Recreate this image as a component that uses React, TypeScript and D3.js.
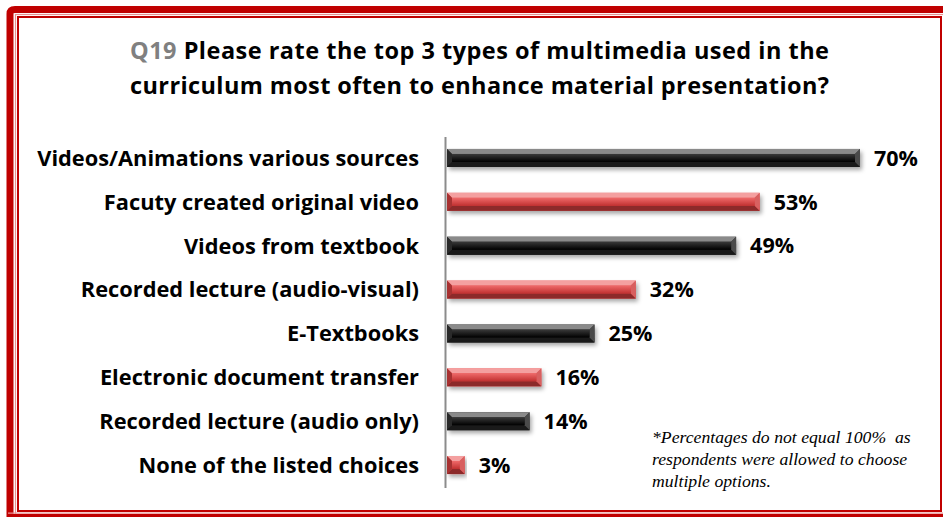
import React from "react";
import * as d3 from "d3";

const categories = [
  "Videos/Animations various sources",
  "Facuty created original video",
  "Videos from textbook",
  "Recorded lecture (audio-visual)",
  "E-Textbooks",
  "Electronic document transfer",
  "Recorded lecture (audio only)",
  "None of the listed choices",
];
const values = [70, 53, 49, 32, 25, 16, 14, 3];
const titleLines = [
  "Please rate the top 3 types of multimedia used in the",
  "curriculum most often to enhance material presentation?",
];
const titlePrefix = "Q19";
const footnote = [
  "*Percentages do not equal 100%  as",
  "respondents were allowed to choose",
  "multiple options.",
];

const W = 943;
const H = 517;

const palettes = {
  black: { top: "#8a8a8a", face0: "#3a3a3a", face1: "#000000", bottom: "#1a1a1a", left: "#2a2a2a", right: "#4a4a4a" },
  red: { top: "#f4a0a0", face0: "#ef6a6a", face1: "#c03030", bottom: "#8c2a2a", left: "#a83232", right: "#d86060" },
};

export default function App() {
  const x = d3.scaleLinear().domain([0, 70]).range([447, 860]);
  const y = d3.scaleBand<string>().domain(categories).range([136, 487]).padding(0);
  const barH = 18;
  const b = 5;
  const font = "'Open Sans', sans-serif";

  return (
    <svg width={W} height={H} style={{ position: "absolute", left: 0, top: 0, background: "#fff" }}>
      <defs>
        <filter id="shadow" x="-10%" y="-50%" width="120%" height="220%">
          <feDropShadow dx="2" dy="3" stdDeviation="2" floodColor="#000" floodOpacity="0.35" />
        </filter>
        {Object.entries(palettes).map(([k, p]) => (
          <linearGradient key={k} id={`face-${k}`} x1="0" y1="0" x2="0" y2="1">
            <stop offset="0" stopColor={p.face0} />
            <stop offset="1" stopColor={p.face1} />
          </linearGradient>
        ))}
      </defs>
      {/* frame */}
      <path d={`M10,${H + 20} L10,14 Q10,9.5 15,9.5 L${W + 20},9.5`} fill="none" stroke="#c00000" strokeWidth={7} />
      <rect x={15.5} y={14.5} width={W + 40} height={H - 15 + 40} fill="none" stroke="#e89090" strokeWidth={1.2} />
      <rect x={18} y={17} width={W - 2 - 18} height={511 - 17} fill="none" stroke="#c00000" strokeWidth={2} />
      <path d={`M10,${H - 1.5} L${W},${H - 1.5}`} stroke="#c00000" strokeWidth={3} />
      <path d={`M8,${H - 3.8} L${W},${H - 3.8}`} stroke="#e89090" strokeWidth={1.2} />

      {/* title */}
      <text x={130} y={59} fontFamily={font} fontWeight={700} fontSize={23.5} fill="#000" textLength={699} lengthAdjust="spacing">
        <tspan fill="#808080">{titlePrefix}</tspan> {titleLines[0]}
      </text>
      <text x={130} y={94} fontFamily={font} fontWeight={700} fontSize={23.5} fill="#000" textLength={699} lengthAdjust="spacing">
        {titleLines[1]}
      </text>

      {/* axis */}
      <line x1={445.5} x2={445.5} y1={137} y2={488} stroke="#8c8c8c" strokeWidth={2} />

      {categories.map((c, i) => {
        const cy = (y(c) as number) + y.bandwidth() / 2;
        const x0 = x(0);
        const x1 = x(values[i]);
        const y0 = cy - barH / 2;
        const y1 = cy + barH / 2;
        const p = i % 2 === 0 ? palettes.black : palettes.red;
        const k = i % 2 === 0 ? "black" : "red";
        const bb = Math.min(b, (x1 - x0) / 2);
        return (
          <g key={c}>
            <text x={419} y={cy} dy="0.36em" textAnchor="end" fontFamily={font} fontWeight={700} fontSize={21.8} fill="#000">
              {c}
            </text>
            <g filter="url(#shadow)">
              <rect x={x0} y={y0} width={x1 - x0} height={barH} fill={`url(#face-${k})`} />
            </g>
            <polygon points={`${x0},${y0} ${x1},${y0} ${x1 - bb},${y0 + b} ${x0 + bb},${y0 + b}`} fill={p.top} />
            <polygon points={`${x0},${y1} ${x1},${y1} ${x1 - bb},${y1 - b} ${x0 + bb},${y1 - b}`} fill={p.bottom} />
            <polygon points={`${x0},${y0} ${x0 + bb},${y0 + b} ${x0 + bb},${y1 - b} ${x0},${y1}`} fill={p.left} />
            <polygon points={`${x1},${y0} ${x1 - bb},${y0 + b} ${x1 - bb},${y1 - b} ${x1},${y1}`} fill={p.right} />
            <rect x={x0 + bb} y={y0 + b} width={Math.max(0, x1 - x0 - 2 * bb)} height={barH - 2 * b} fill={`url(#face-${k})`} />
            <text x={x1 + 14} y={cy} dy="0.36em" fontFamily={font} fontWeight={700} fontSize={21.5} fill="#000">
              {`${values[i]}%`}
            </text>
          </g>
        );
      })}

      {footnote.map((t, i) => (
        <text key={i} x={652} y={443 + i * 22} fontFamily="'Liberation Serif', 'DejaVu Serif', serif" fontStyle="italic" fontSize={17.7} fill="#000" style={{ whiteSpace: "pre" }}>
          {t}
        </text>
      ))}
    </svg>
  );
}
